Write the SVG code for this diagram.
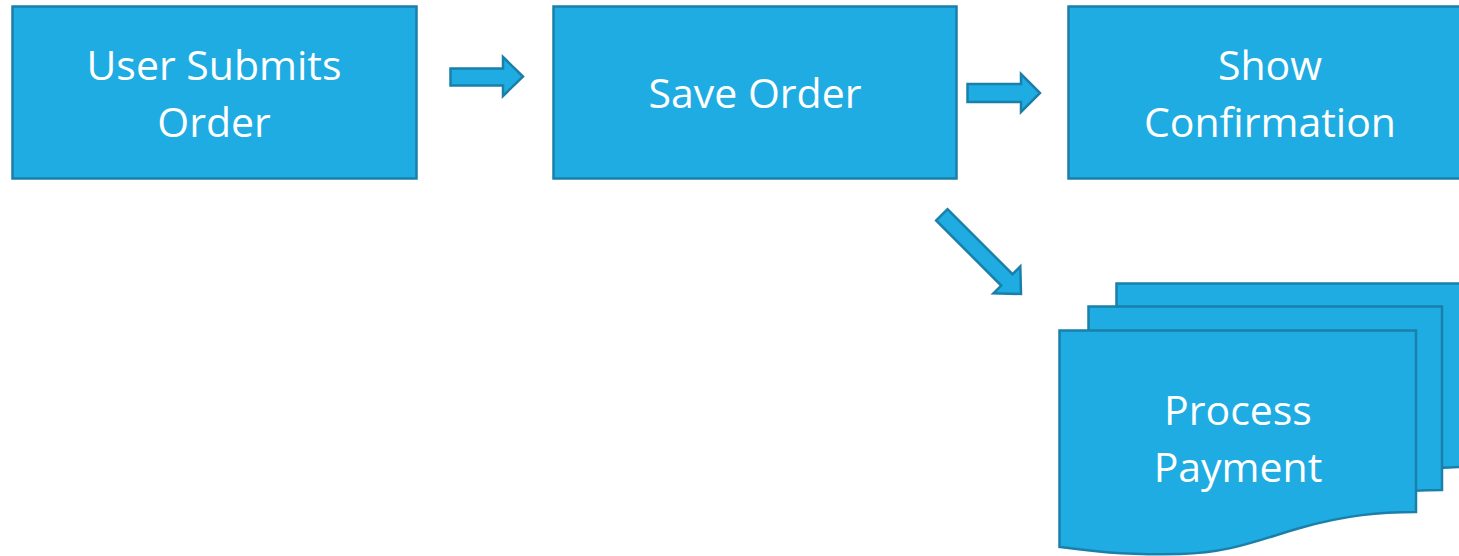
<svg xmlns="http://www.w3.org/2000/svg" width="1459" height="556" viewBox="0 0 1459 556">
  <style>
    .shape { fill: #1EACE3; stroke: #1A7FA9; stroke-width: 2.5; stroke-linejoin: miter; }
    .label { fill: #ffffff; font-family: "Open Sans", "Noto Sans", sans-serif; font-size: 41px; text-anchor: middle; }
  </style>
  <rect width="1459" height="556" fill="#ffffff"/>

  <g id="node-user-submits">
    <rect class="shape" x="12.5" y="6.5" width="404" height="172"/>
    <text class="label" x="214" y="80">User Submits</text>
    <text class="label" x="214" y="137">Order</text>
  </g>

  <g id="node-save-order">
    <rect class="shape" x="553.5" y="6.5" width="403" height="172"/>
    <text class="label" x="755" y="108">Save Order</text>
  </g>

  <g id="node-show-confirmation">
    <rect class="shape" x="1068.5" y="6.5" width="404" height="172"/>
    <text class="label" x="1270" y="80">Show</text>
    <text class="label" x="1270" y="137">Confirmation</text>
  </g>

  <g id="node-process-payment">
    <!-- stacked documents, back to front -->
    <path class="shape" d="M1116.5,283.5 H1470 V467 C1434,467 1400,470 1360,481 C1320,492 1290,500 1250,500 C1190,500 1150,489 1116.5,484 Z"/>
    <path class="shape" d="M1088.5,306.5 H1442 V490 C1406,490 1372,493 1332,504 C1292,515 1262,523 1222,523 C1162,523 1122,512 1088.5,507 Z"/>
    <path class="shape" d="M1059.5,330.5 H1416 V512 C1380,512 1346,515 1300,528 C1258,540 1230,553 1180,554 C1120,555 1090,551 1059.5,547 Z"/>
    <text class="label" x="1238" y="425">Process</text>
    <text class="label" x="1238" y="482">Payment</text>
  </g>

  <g id="connectors">
    <path class="shape" d="M450.5,68.5 H503 V57 L523,76.5 L503,96 V85.5 H450.5 Z"/>
    <path class="shape" d="M967.5,84 H1021 V74 L1040,93 L1021,112 V102 H967.5 Z"/>
    <path class="shape" transform="translate(1021,294) rotate(45)" d="M-112,-8 H-20 V-19 L0,0 L-20,19 V8 H-112 Z"/>
  </g>
</svg>
